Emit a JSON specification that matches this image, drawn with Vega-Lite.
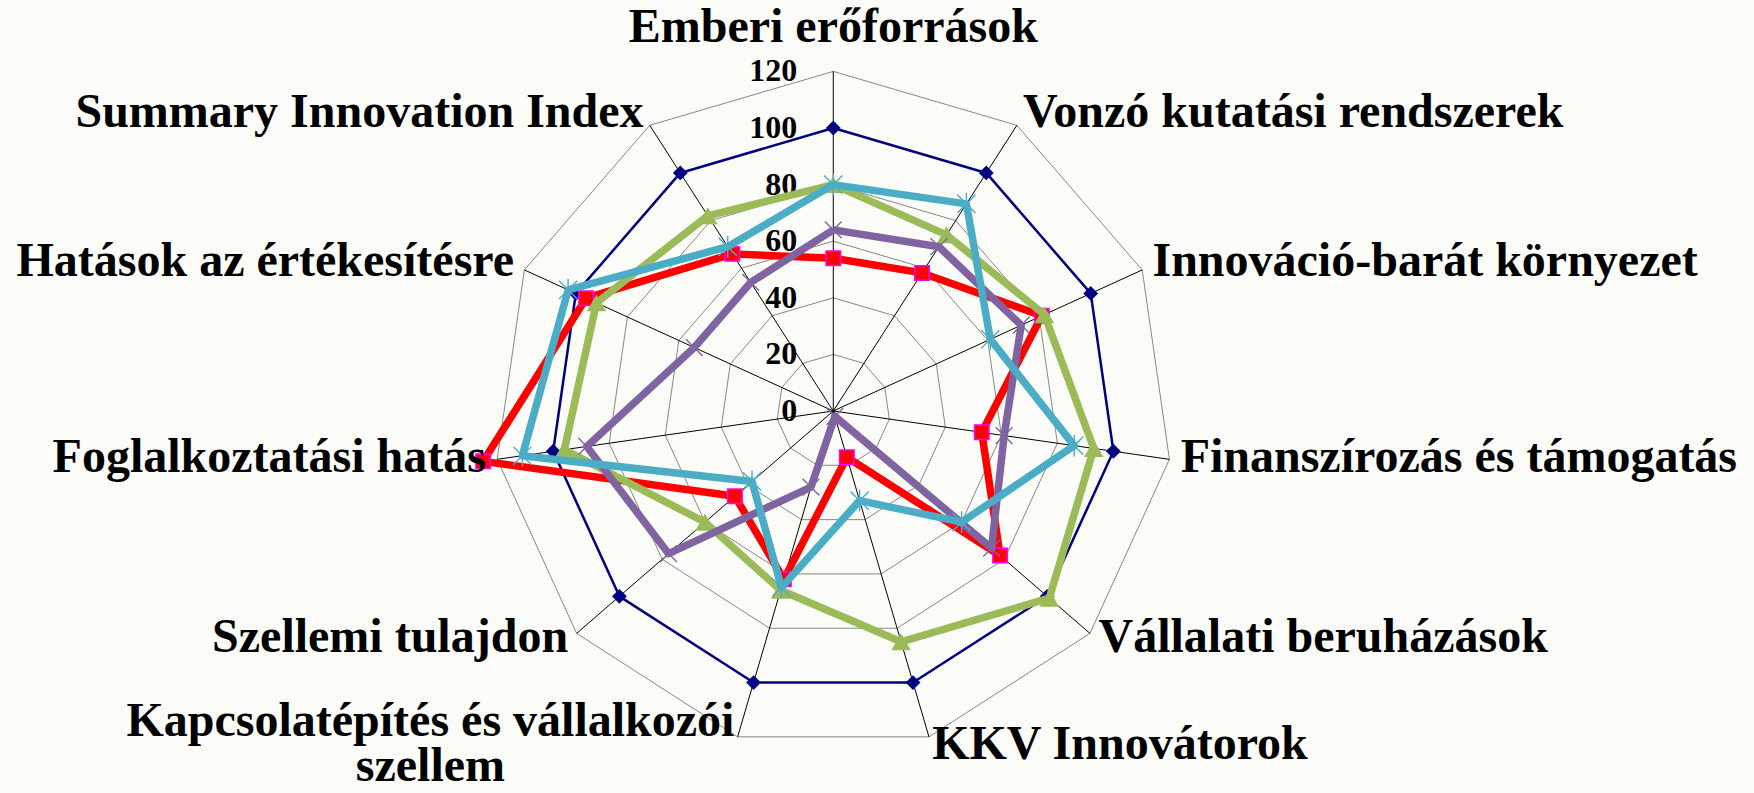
{
  "$schema": "https://vega.github.io/schema/vega-lite/v6.json",
  "width": 1754,
  "height": 793,
  "autosize": {"type": "none"},
  "padding": 0,
  "background": "#FBFCF7",
  "config": {"view": {"stroke": null}},
  "datasets": {
    "axes": [
      {"i": 0, "axis": "Emberi erőforrások", "levels": [20, 40, 60, 80, 100, 120]},
      {"i": 1, "axis": "Vonzó kutatási rendszerek", "levels": [20, 40, 60, 80, 100, 120]},
      {"i": 2, "axis": "Innováció-barát környezet", "levels": [20, 40, 60, 80, 100, 120]},
      {"i": 3, "axis": "Finanszírozás és támogatás", "levels": [20, 40, 60, 80, 100, 120]},
      {"i": 4, "axis": "Vállalati beruházások", "levels": [20, 40, 60, 80, 100, 120]},
      {"i": 5, "axis": "KKV Innovátorok", "levels": [20, 40, 60, 80, 100, 120]},
      {"i": 6, "axis": "Kapcsolatépítés és vállalkozói\nszellem", "levels": [20, 40, 60, 80, 100, 120]},
      {"i": 7, "axis": "Szellemi tulajdon", "levels": [20, 40, 60, 80, 100, 120]},
      {"i": 8, "axis": "Foglalkoztatási hatás", "levels": [20, 40, 60, 80, 100, 120]},
      {"i": 9, "axis": "Hatások az értékesítésre", "levels": [20, 40, 60, 80, 100, 120]},
      {"i": 10, "axis": "Summary Innovation Index", "levels": [20, 40, 60, 80, 100, 120]}
    ],
    "ticks": [
      {"level": 0}, {"level": 20}, {"level": 40}, {"level": 60}, {"level": 80}, {"level": 100}, {"level": 120}
    ],
    "scores": [
      {"series": "s1", "i": 0, "value": 100}, {"series": "s1", "i": 1, "value": 100}, {"series": "s1", "i": 2, "value": 100},
      {"series": "s1", "i": 3, "value": 100}, {"series": "s1", "i": 4, "value": 100}, {"series": "s1", "i": 5, "value": 100},
      {"series": "s1", "i": 6, "value": 100}, {"series": "s1", "i": 7, "value": 100}, {"series": "s1", "i": 8, "value": 100},
      {"series": "s1", "i": 9, "value": 100}, {"series": "s1", "i": 10, "value": 100}, {"series": "s1", "i": 11, "value": 100},

      {"series": "s2", "i": 0, "value": 54}, {"series": "s2", "i": 1, "value": 58}, {"series": "s2", "i": 2, "value": 81},
      {"series": "s2", "i": 3, "value": 53}, {"series": "s2", "i": 4, "value": 78}, {"series": "s2", "i": 5, "value": 17},
      {"series": "s2", "i": 6, "value": 62}, {"series": "s2", "i": 7, "value": 46}, {"series": "s2", "i": 8, "value": 125},
      {"series": "s2", "i": 9, "value": 96}, {"series": "s2", "i": 10, "value": 66}, {"series": "s2", "i": 11, "value": 54},

      {"series": "s3", "i": 0, "value": 80}, {"series": "s3", "i": 1, "value": 74}, {"series": "s3", "i": 2, "value": 82},
      {"series": "s3", "i": 3, "value": 93}, {"series": "s3", "i": 4, "value": 101}, {"series": "s3", "i": 5, "value": 85},
      {"series": "s3", "i": 6, "value": 66}, {"series": "s3", "i": 7, "value": 60}, {"series": "s3", "i": 8, "value": 96},
      {"series": "s3", "i": 9, "value": 92}, {"series": "s3", "i": 10, "value": 82}, {"series": "s3", "i": 11, "value": 80},

      {"series": "s4", "i": 0, "value": 64}, {"series": "s4", "i": 1, "value": 69}, {"series": "s4", "i": 2, "value": 73},
      {"series": "s4", "i": 3, "value": 61}, {"series": "s4", "i": 4, "value": 74}, {"series": "s4", "i": 5, "value": 2},
      {"series": "s4", "i": 6, "value": 28}, {"series": "s4", "i": 7, "value": 77}, {"series": "s4", "i": 8, "value": 88},
      {"series": "s4", "i": 9, "value": 54}, {"series": "s4", "i": 10, "value": 54}, {"series": "s4", "i": 11, "value": 64},

      {"series": "s5", "i": 0, "value": 80}, {"series": "s5", "i": 1, "value": 87}, {"series": "s5", "i": 2, "value": 61},
      {"series": "s5", "i": 3, "value": 86}, {"series": "s5", "i": 4, "value": 60}, {"series": "s5", "i": 5, "value": 33},
      {"series": "s5", "i": 6, "value": 65}, {"series": "s5", "i": 7, "value": 38}, {"series": "s5", "i": 8, "value": 111},
      {"series": "s5", "i": 9, "value": 103}, {"series": "s5", "i": 10, "value": 69}, {"series": "s5", "i": 11, "value": 80}
    ]
  },
  "encoding": {
    "x": {"field": "x", "type": "quantitative", "scale": {"domain": [-294.45, 325.34], "nice": false, "zero": false}, "axis": null},
    "y": {"field": "y", "type": "quantitative", "scale": {"domain": [-134.98, 145.23], "nice": false, "zero": false}, "axis": null}
  },
  "layer": [
    {
      "data": {"name": "axes"},
      "transform": [
        {"flatten": ["levels"], "as": ["level"]},
        {"calculate": "2*PI*datum.i/11", "as": "a"},
        {"calculate": "2*PI*(datum.i+1)/11", "as": "a2"},
        {"calculate": "datum.level*sin(datum.a)", "as": "x"},
        {"calculate": "datum.level*cos(datum.a)", "as": "y"},
        {"calculate": "datum.level*sin(datum.a2)", "as": "x2"},
        {"calculate": "datum.level*cos(datum.a2)", "as": "y2"}
      ],
      "mark": {"type": "rule", "color": "#888888", "strokeWidth": 1},
      "encoding": {"x2": {"field": "x2"}, "y2": {"field": "y2"}}
    },
    {
      "data": {"name": "axes"},
      "transform": [
        {"calculate": "2*PI*datum.i/11", "as": "a"},
        {"calculate": "0", "as": "x"},
        {"calculate": "0", "as": "y"},
        {"calculate": "120*sin(datum.a)", "as": "x2"},
        {"calculate": "120*cos(datum.a)", "as": "y2"}
      ],
      "mark": {"type": "rule", "color": "#000000", "strokeWidth": 1},
      "encoding": {"x2": {"field": "x2"}, "y2": {"field": "y2"}}
    },
    {
      "data": {"name": "ticks"},
      "transform": [
        {"calculate": "0", "as": "x"},
        {"calculate": "datum.level", "as": "y"}
      ],
      "mark": {"type": "text", "align": "right", "baseline": "middle", "dx": -36, "font": "Liberation Serif", "fontWeight": "bold", "fontSize": 32, "color": "#000000"},
      "encoding": {"text": {"field": "level", "type": "quantitative"}}
    },
    {
      "data": {"name": "scores"},
      "transform": [
        {"calculate": "2*PI*datum.i/11", "as": "a"},
        {"calculate": "datum.value*sin(datum.a)", "as": "x"},
        {"calculate": "datum.value*cos(datum.a)", "as": "y"}
      ],
      "layer": [
        {
          "transform": [{"filter": "datum.series === 's1'"}],
          "mark": {"type": "line", "color": "#000080", "strokeWidth": 2.5, "strokeJoin": "round"},
          "encoding": {"order": {"field": "i", "type": "quantitative"}}
        },
        {
          "transform": [{"filter": "datum.series === 's1' && datum.i < 11"}],
          "mark": {"type": "point", "shape": "diamond", "size": 220, "filled": true, "color": "#000080", "opacity": 1}
        },
        {
          "transform": [{"filter": "datum.series === 's2'"}],
          "mark": {"type": "line", "color": "#FF0000", "strokeWidth": 7.5, "strokeJoin": "round"},
          "encoding": {"order": {"field": "i", "type": "quantitative"}}
        },
        {
          "transform": [{"filter": "datum.series === 's2' && datum.i < 11"}],
          "mark": {"type": "point", "shape": "square", "size": 210, "filled": true, "fill": "#FF0000", "stroke": "#FF00FF", "strokeWidth": 1.5, "opacity": 1}
        },
        {
          "transform": [{"filter": "datum.series === 's3'"}],
          "mark": {"type": "line", "color": "#9BBB59", "strokeWidth": 7.5, "strokeJoin": "round"},
          "encoding": {"order": {"field": "i", "type": "quantitative"}}
        },
        {
          "transform": [{"filter": "datum.series === 's3' && datum.i < 11"}],
          "mark": {"type": "point", "shape": "triangle-up", "size": 380, "filled": true, "color": "#9BBB59", "opacity": 1}
        },
        {
          "transform": [{"filter": "datum.series === 's4'"}],
          "mark": {"type": "line", "color": "#8064A2", "strokeWidth": 7.5, "strokeJoin": "round"},
          "encoding": {"order": {"field": "i", "type": "quantitative"}}
        },
        {
          "transform": [{"filter": "datum.series === 's4' && datum.i < 11"}],
          "mark": {"type": "point", "shape": "M-1,-1L1,1M-1,1L1,-1", "size": 280, "filled": false, "stroke": "#8064A2", "strokeWidth": 1.4, "opacity": 1}
        },
        {
          "transform": [{"filter": "datum.series === 's5'"}],
          "mark": {"type": "line", "color": "#4BACC6", "strokeWidth": 7.5, "strokeJoin": "round"},
          "encoding": {"order": {"field": "i", "type": "quantitative"}}
        },
        {
          "transform": [{"filter": "datum.series === 's5' && datum.i < 11"}],
          "mark": {"type": "point", "shape": "M-1,-1L1,1M-1,1L1,-1M0,-1.2L0,1.2", "size": 330, "filled": false, "stroke": "#4BACC6", "strokeWidth": 1.4, "opacity": 1}
        }
      ]
    },
    {
      "data": {"name": "axes"},
      "transform": [
        {"calculate": "2*PI*datum.i/11", "as": "a"},
        {"calculate": "124*sin(datum.a)", "as": "x"},
        {"calculate": "124*cos(datum.a)", "as": "y"}
      ],
      "encoding": {"text": {"field": "axis", "type": "nominal"}},
      "layer": [
        {
          "transform": [{"filter": "datum.i === 0"}],
          "mark": {"type": "text", "align": "center", "baseline": "alphabetic", "dy": -18, "font": "Liberation Serif", "fontWeight": "bold", "fontSize": 48, "color": "#000000"}
        },
        {
          "transform": [{"filter": "datum.i >= 1 && datum.i <= 5"}],
          "mark": {"type": "text", "align": "left", "baseline": "middle", "dy": -3, "font": "Liberation Serif", "fontWeight": "bold", "fontSize": 48, "color": "#000000"}
        },
        {
          "transform": [{"filter": "datum.i >= 7"}],
          "mark": {"type": "text", "align": "right", "baseline": "middle", "dy": -3, "font": "Liberation Serif", "fontWeight": "bold", "fontSize": 48, "color": "#000000"}
        },
        {
          "transform": [{"filter": "datum.i === 6"}],
          "mark": {"type": "text", "align": "center", "baseline": "alphabetic", "dx": -304, "dy": -12, "lineBreak": "\n", "lineHeight": 45, "font": "Liberation Serif", "fontWeight": "bold", "fontSize": 48, "color": "#000000"}
        }
      ]
    }
  ]
}
